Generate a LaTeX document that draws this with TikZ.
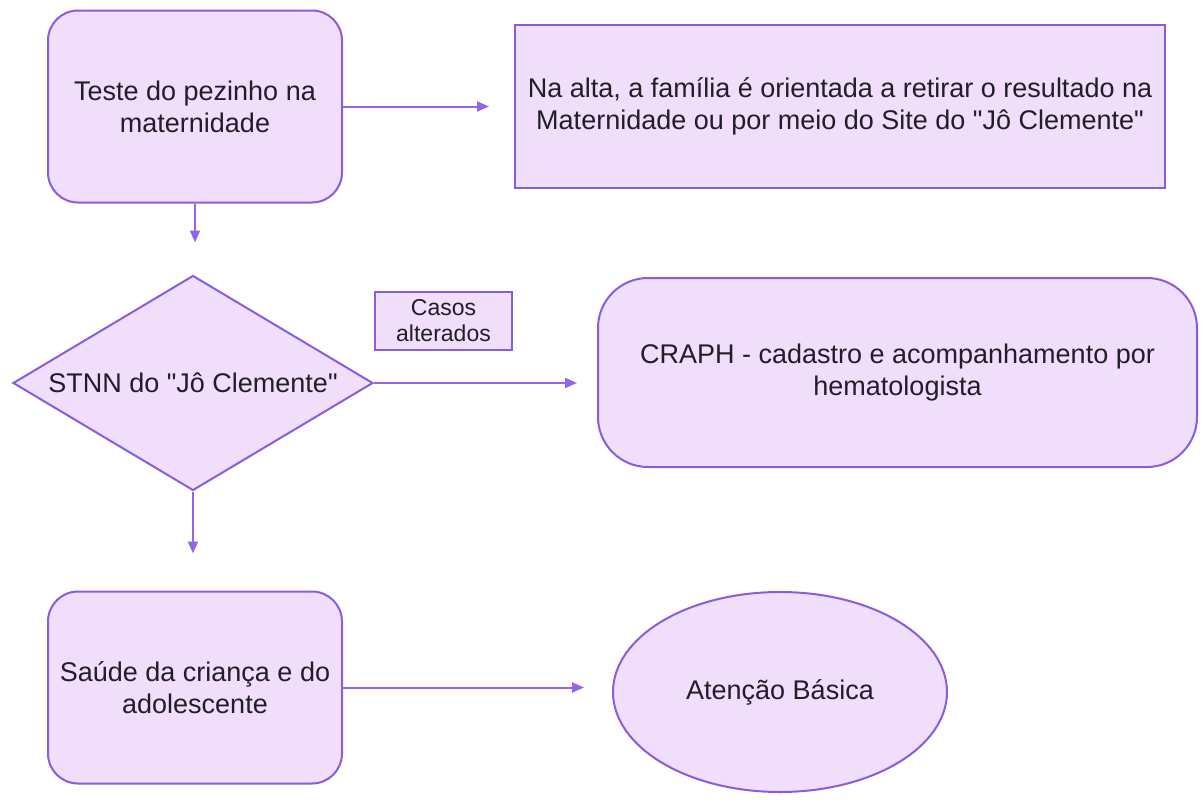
\documentclass[tikz,border=0pt]{standalone}
\usepackage{fontspec}
\setmainfont{Liberation Sans}[Ligatures=TeXOff]
\usetikzlibrary{arrows.meta,positioning,calc,shapes.geometric}
\definecolor{boxfill}{RGB}{240,222,250}
\definecolor{boxline}{RGB}{138,92,222}
\definecolor{arrowc}{RGB}{150,100,236}
\definecolor{txt}{RGB}{34,30,40}
\begin{document}
\begin{tikzpicture}[
  x=0.5pt, y=-0.5pt,
  base/.style={draw=boxline, line width=1pt, fill=boxfill, text=txt, align=center, inner sep=0pt, font=\fontsize{13.5}{16}\selectfont},
  roundbox/.style={base, rounded corners=15pt, minimum width=147pt, minimum height=96pt},
  plainbox/.style={base, minimum width=325pt, minimum height=81.5pt},
  decision/.style={base, diamond, minimum width=180pt, minimum height=107.5pt},
  tag/.style={base, minimum width=68.5pt, minimum height=29pt, font=\fontsize{11.5}{13}\selectfont},
  biground/.style={base, rounded corners=25pt, minimum width=299.5pt, minimum height=94.5pt},
  oval/.style={base, ellipse, minimum width=167pt, minimum height=100pt},
  arrow/.style={-{Triangle[length=6pt,width=5pt]}, draw=arrowc, fill=arrowc, line width=1pt}
]
\useasboundingbox (0,0) rectangle (1201,809);
% top row
\node[roundbox] (teste) at (195,106.5) {Teste do pezinho na\\maternidade};
\node[plainbox] (alta) at (840,106.5) {Na alta, a família é orientada a retirar o resultado na\\Maternidade ou por meio do Site do "Jô Clemente"};
% middle row: decision, tag over the arrow, CRAPH
\node[decision] (stnn) at (193,383) {\makebox[0pt]{STNN do "Jô Clemente"}};
\node[tag] (casos) at (443.5,321) {Casos\\alterados};
\node[biground] (craph) at (897.5,372.5) {CRAPH - cadastro e acompanhamento por\\hematologista};
% bottom row
\node[roundbox] (saude) at (195,687.5) {Saúde da criança e do\\adolescente};
\node[oval] (atencao) at (780,692) {Atenção Básica};
% arrows, each stopping short of its target
\draw[arrow, shorten >=12.5pt] (teste.east) -- (teste.east -| alta.west);
\draw[arrow, shorten >=16pt] (teste.south) -- (teste.south |- stnn.north);
\draw[arrow, shorten >=10pt] (stnn.east) -- (stnn.east -| craph.west);
\draw[arrow, shorten >=18.5pt] (stnn.south) -- (stnn.south |- saude.north);
\draw[arrow, shorten >=14pt] (saude.east) -- (saude.east -| atencao.west);
\end{tikzpicture}
\end{document}
